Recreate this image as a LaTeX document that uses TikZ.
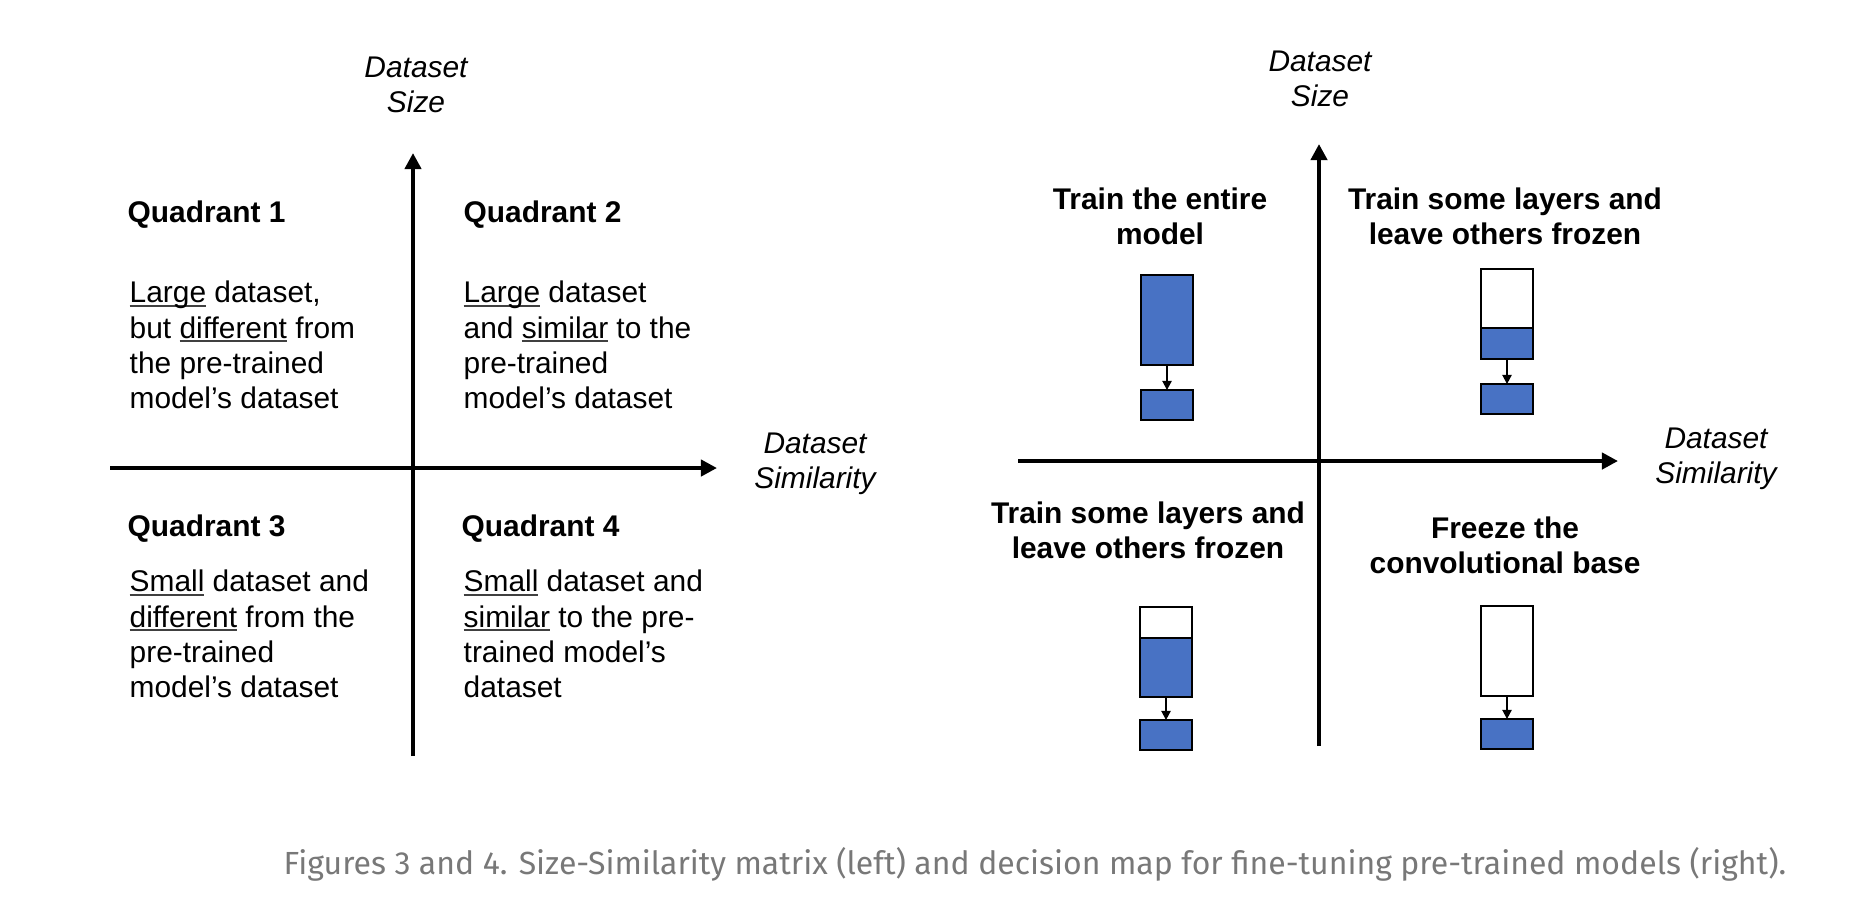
\documentclass[tikz,border=0pt]{standalone}
\usepackage{fontspec}
\setmainfont{Liberation Sans}
\newfontfamily\capfont{Fira Sans}
\usepackage{xcolor}
\usepackage{tikz}
\usetikzlibrary{arrows.meta,positioning}
\definecolor{layblue}{RGB}{72,114,196}
\definecolor{capgray}{RGB}{120,120,120}
\newcommand{\udl}[1]{\setbox0\hbox{#1}\rlap{\color{black!75}\rule[-1.2pt]{\wd0}{0.55pt}}\box0\relax}
\tikzset{
  qhead/.style={font=\fontsize{8.5}{10}\selectfont\bfseries, inner sep=0pt, anchor=west},
  qtext/.style={font=\fontsize{8.5}{10}\selectfont, align=left, inner sep=0pt, anchor=west},
  mhead/.style={font=\fontsize{8.5}{10}\selectfont\bfseries, align=center, inner sep=0pt},
  axlab/.style={font=\fontsize{8.5}{10}\selectfont\itshape, align=center, inner sep=0pt},
  axarr/.style={-{Triangle[length=4.6pt,width=4.6pt]}, line width=1.35pt},
  lay/.style={draw=black, line width=0.7pt, inner sep=0pt, outer sep=0pt, minimum width=5.2mm},
  sarr/.style={-{Triangle[length=2.6pt,width=2.6pt]}, line width=0.5pt}
}

\begin{document}
\begin{tikzpicture}[x=0.01cm,y=-0.01cm]
\useasboundingbox (0,0) rectangle (1852,920);
% size-similarity matrix
\coordinate (lx0) at (110,468);
\coordinate (lx1) at (717,468);
\coordinate (ly0) at (413,756);
\coordinate (ly1) at (413,153);
\draw[axarr] (lx0)--(lx1);
\draw[axarr] (ly0)--(ly1);
\node[axlab] (lsize) at (416,85) {Dataset\\Size};
\node[axlab] (lsim) at (815,464) {Dataset\\Similarity};
\node[qhead] (q1) at (127,215) {Quadrant 1};
\node[qtext] (t1) at (129,345) {\udl{Large} dataset,\\but \udl{different} from\\the pre-trained\\model’s dataset};
\node[qhead] (q2) at (463,215) {Quadrant 2};
\node[qtext] (t2) at (463,345) {\udl{Large} dataset\\and \udl{similar} to the\\pre-trained\\model’s dataset};
\node[qhead] (q3) at (127,529) {Quadrant 3};
\node[qtext] (t3) at (129,634) {\udl{Small} dataset and\\\udl{different} from the\\pre-trained\\model’s dataset};
\node[qhead] (q4) at (461,529) {Quadrant 4};
\node[qtext] (t4) at (463,634) {\udl{Small} dataset and\\\udl{similar} to the pre-\\trained model’s\\dataset};
% decision map
\coordinate (rx0) at (1018,461);
\coordinate (rx1) at (1618,461);
\coordinate (ry0) at (1319,746);
\coordinate (ry1) at (1319,144);
\draw[axarr] (rx0)--(rx1);
\draw[axarr] (ry0)--(ry1);
\node[axlab] (rsize) at (1320,79) {Dataset\\Size};
\node[axlab] (rsim) at (1716,459) {Dataset\\Similarity};
\node[mhead] (h1) at (1160,216) {Train the entire\\model};
\node[mhead] (h2) at (1505,216) {Train some layers and\\leave others frozen};
\node[mhead] (h3) at (1148,530) {Train some layers and\\leave others frozen};
\node[mhead] (h4) at (1505,545) {Freeze the\\convolutional base};
\node[lay, fill=layblue, minimum height=9mm, anchor=north] (b1) at (1167,275) {};
\node[lay, fill=layblue, minimum height=3mm, below=2.5mm of b1] (o1) {};
\node[lay, fill=white, minimum height=5.9mm, anchor=north] (w2) at (1507,269) {};
\node[lay, fill=layblue, minimum height=3.1mm, below=0pt of w2] (b2) {};
\node[lay, fill=layblue, minimum height=3mm, below=2.5mm of b2] (o2) {};
\node[lay, fill=white, minimum height=3.1mm, anchor=north] (w3) at (1166,607) {};
\node[lay, fill=layblue, minimum height=5.9mm, below=0pt of w3] (b3) {};
\node[lay, fill=layblue, minimum height=3mm, below=2.3mm of b3] (o3) {};
\node[lay, fill=white, minimum height=9mm, anchor=north] (w4) at (1507,606) {};
\node[lay, fill=layblue, minimum height=3mm, below=2.3mm of w4] (o4) {};
\draw[sarr] (b1)--(o1);
\draw[sarr] (b2)--(o2);
\draw[sarr] (b3)--(o3);
\draw[sarr] (w4)--(o4);
\node[font=\capfont\fontsize{9.1}{11}\selectfont, text=capgray, inner sep=0pt] (cap) at (1035,864) {Figures 3 and 4. Size-Similarity matrix (left) and decision map for fine-tuning pre-trained models (right).};
\end{tikzpicture}
\end{document}
